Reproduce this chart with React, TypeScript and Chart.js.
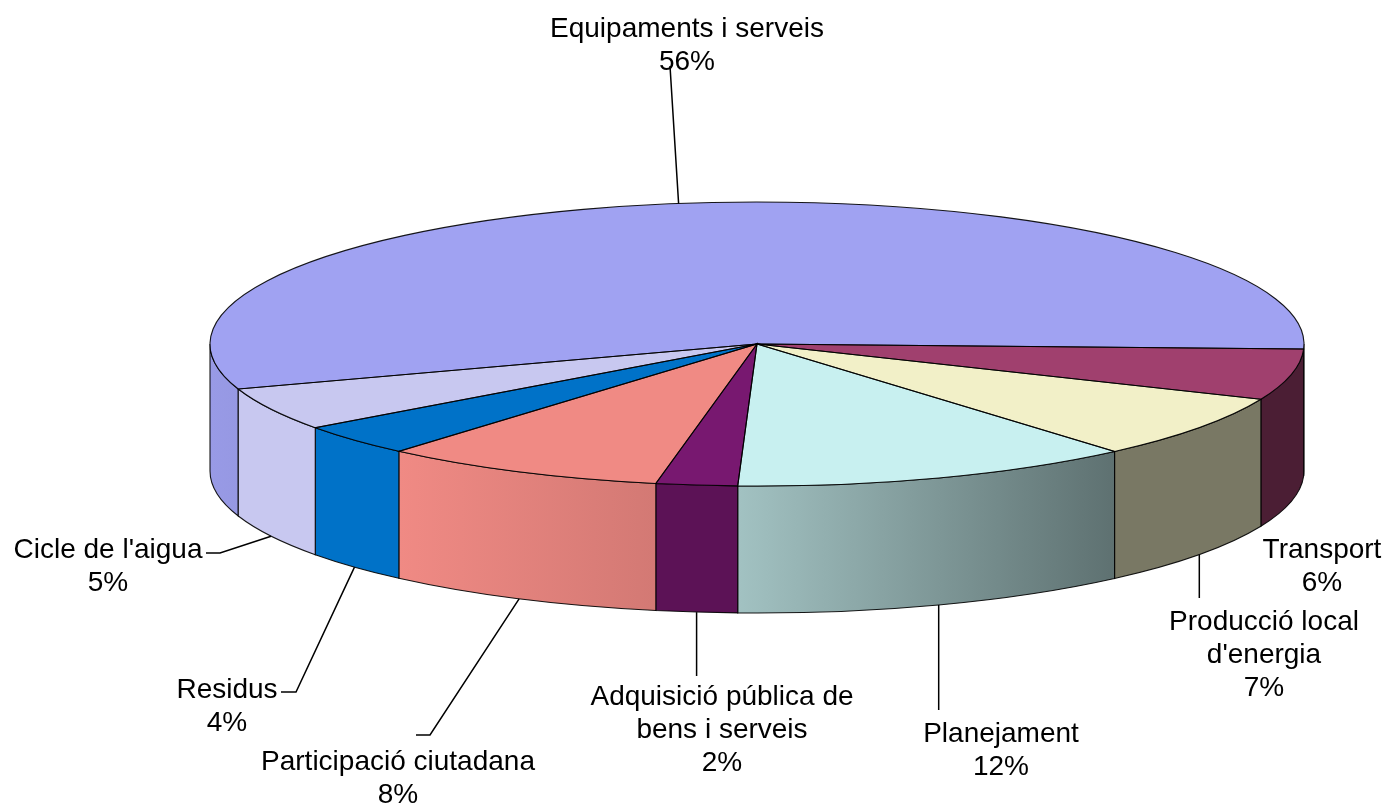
import React, { useEffect, useRef } from "react";
import { Chart, registerables } from "chart.js";

Chart.register(...registerables);

// ---------- data ----------
const categories = [
  "Equipaments i serveis",
  "Transport",
  "Producció local d'energia",
  "Planejament",
  "Adquisició pública de bens i serveis",
  "Participació ciutadana",
  "Residus",
  "Cicle de l'aigua",
];
const shares = [55.7, 5.8, 7.3, 11.9, 2.4, 8.4, 3.6, 4.9];
const labelLines = [
  ["Equipaments i serveis"],
  ["Transport"],
  ["Producció local", "d'energia"],
  ["Planejament"],
  ["Adquisició pública de", "bens i serveis"],
  ["Participació ciutadana"],
  ["Residus"],
  ["Cicle de l'aigua"],
];

// ---------- styles / layout ----------
const TOP_COLORS = ["#a0a2f2", "#a0406e", "#f2f0c8", "#c8f0f0", "#781870", "#f08a84", "#0072c8", "#c8c8f0"];
const SIDE_SHADE = [
  [0.95, 0.47],
  [0.47, 0.47],
  [0.5, 0.5],
  [0.81, 0.47],
  [0.77, 0.77],
  [1.0, 0.88],
  [1.0, 1.0],
  [1.0, 1.0],
];
const W = 1385;
const H = 805;
const ROTATION = 251.5;
const PIE = { cx: 757, cy: 344, rx: 547, ry: 142, depth: 127 };
const FONT = '28px "Liberation Sans", Arial, sans-serif';
const LINE_GAP = 33;
const LABEL_POS = [
  [687, 37],
  [1322, 558],
  [1264, 630],
  [1001, 742],
  [722, 705],
  [398, 770],
  [227, 698],
  [108, 558],
];
// leader waypoints after the pie anchor; null x = keep anchor x (vertical)
const LEADERS: (number | null)[][][] = [
  [[670, 66]],
  [],
  [[null, 598]],
  [[null, 710]],
  [[null, 676]],
  [[430, 735], [416, 735]],
  [[296, 692], [281, 692]],
  [[220, 553], [206, 553]],
];

function hexToRgb(h: string) {
  const v = parseInt(h.slice(1), 16);
  return [(v >> 16) & 255, (v >> 8) & 255, v & 255];
}
function shade(hex: string, f: number) {
  const [r, g, b] = hexToRgb(hex);
  return `rgb(${Math.round(r * f)},${Math.round(g * f)},${Math.round(b * f)})`;
}

const TWO_PI = Math.PI * 2;
const OUTLINE = "rgba(0,0,0,0.9)";

const pie3d = {
  id: "pie3d",
  beforeDatasetsDraw(chart: any) {
    const ctx: CanvasRenderingContext2D = chart.ctx;
    const arcs = chart.getDatasetMeta(0).data as any[];
    if (!arcs.length) return;
    const { cx, cy, rx, ry, depth } = PIE;

    arcs.forEach((arc, i) => {
      const s0 = ((arc.startAngle % TWO_PI) + TWO_PI) % TWO_PI;
      const e0 = s0 + (arc.endAngle - arc.startAngle);
      const segs: number[][] = [];
      for (const base of [0, TWO_PI]) {
        const a = Math.max(s0, base);
        const b = Math.min(e0, base + Math.PI);
        if (b > a) segs.push([a - base, b - base]);
      }
      if (!segs.length) return;
      let xmin = Infinity;
      let xmax = -Infinity;
      segs.forEach(([a, b]) => {
        xmin = Math.min(xmin, cx + rx * Math.cos(b));
        xmax = Math.max(xmax, cx + rx * Math.cos(a));
      });
      const [fL, fR] = SIDE_SHADE[i];
      const fAt = (x: number) => fL + (fR - fL) * ((x - xmin) / (xmax - xmin || 1));
      segs.forEach(([a, b]) => {
        const xl = cx + rx * Math.cos(b);
        const xr = cx + rx * Math.cos(a);
        ctx.save();
        ctx.beginPath();
        ctx.ellipse(cx, cy, rx, ry, 0, a, b, false);
        ctx.lineTo(cx + rx * Math.cos(b), cy + ry * Math.sin(b) + depth);
        ctx.ellipse(cx, cy + depth, rx, ry, 0, b, a, true);
        ctx.closePath();
        const g = ctx.createLinearGradient(xl, 0, Math.max(xr, xl + 0.5), 0);
        g.addColorStop(0, shade(TOP_COLORS[i], fAt(xl)));
        g.addColorStop(1, shade(TOP_COLORS[i], fAt(xr)));
        ctx.fillStyle = g;
        ctx.fill();
        ctx.lineWidth = 1.1;
        ctx.strokeStyle = OUTLINE;
        ctx.stroke();
        ctx.restore();
      });
    });

    // flatten the library's circular pie into the ellipse top face
    const a0 = arcs[0];
    const sx = rx / a0.outerRadius;
    const sy = ry / a0.outerRadius;
    ctx.save();
    ctx.transform(sx, 0, 0, sy, cx - a0.x * sx, cy - a0.y * sy);
  },
  afterDatasetsDraw(chart: any) {
    const ctx: CanvasRenderingContext2D = chart.ctx;
    ctx.restore();
    const arcs = chart.getDatasetMeta(0).data as any[];
    if (!arcs.length) return;
    const { cx, cy, rx, ry, depth } = PIE;

    // top-face outlines
    ctx.save();
    ctx.lineWidth = 1.1;
    ctx.strokeStyle = OUTLINE;
    arcs.forEach((arc) => {
      ctx.beginPath();
      ctx.moveTo(cx, cy);
      ctx.ellipse(cx, cy, rx, ry, 0, arc.startAngle, arc.endAngle, false);
      ctx.closePath();
      ctx.stroke();
    });
    ctx.restore();

    // labels + leader lines
    const total = shares.reduce((s, v) => s + v, 0);
    ctx.save();
    ctx.font = FONT;
    ctx.textAlign = "center";
    ctx.textBaseline = "alphabetic";
    arcs.forEach((arc, i) => {
      const mid = (arc.startAngle + arc.endAngle) / 2;
      const sn = Math.sin(mid);
      const ax = cx + rx * Math.cos(mid);
      const ay = cy + ry * sn + (sn > 0 ? depth : 0);
      const pts = LEADERS[i];
      if (pts.length) {
        ctx.beginPath();
        ctx.moveTo(ax, ay);
        pts.forEach(([px, py]) => ctx.lineTo(px === null ? ax : px, py as number));
        ctx.lineWidth = 1.5;
        ctx.strokeStyle = "#000";
        ctx.stroke();
      }
      const lines = [...labelLines[i], `${Math.round((shares[i] / total) * 100)}%`];
      ctx.fillStyle = "#000";
      const [lx, ly] = LABEL_POS[i];
      lines.forEach((t, k) => ctx.fillText(t, lx, ly + k * LINE_GAP));
    });
    ctx.restore();
  },
};

export default function App() {
  const ref = useRef<HTMLCanvasElement | null>(null);
  useEffect(() => {
    document.body.style.margin = "0";
    document.body.style.overflow = "hidden";
    const canvas = ref.current;
    if (!canvas) return;
    const chart = new Chart(canvas, {
      type: "pie",
      data: {
        labels: categories,
        datasets: [
          {
            data: shares,
            backgroundColor: TOP_COLORS,
            borderWidth: 0,
            hoverOffset: 0,
            clip: false,
          } as any,
        ],
      },
      options: {
        responsive: false,
        animation: false,
        devicePixelRatio: 1,
        rotation: ROTATION,
        events: [],
        layout: { padding: 0 },
        plugins: { legend: { display: false }, tooltip: { enabled: false } },
      } as any,
      plugins: [pie3d],
    });
    return () => chart.destroy();
  }, []);
  return (
    <div style={{ position: "fixed", left: 0, top: 0, width: W, height: H, background: "#fff" }}>
      <canvas ref={ref} width={W} height={H} style={{ display: "block" }} />
    </div>
  );
}
